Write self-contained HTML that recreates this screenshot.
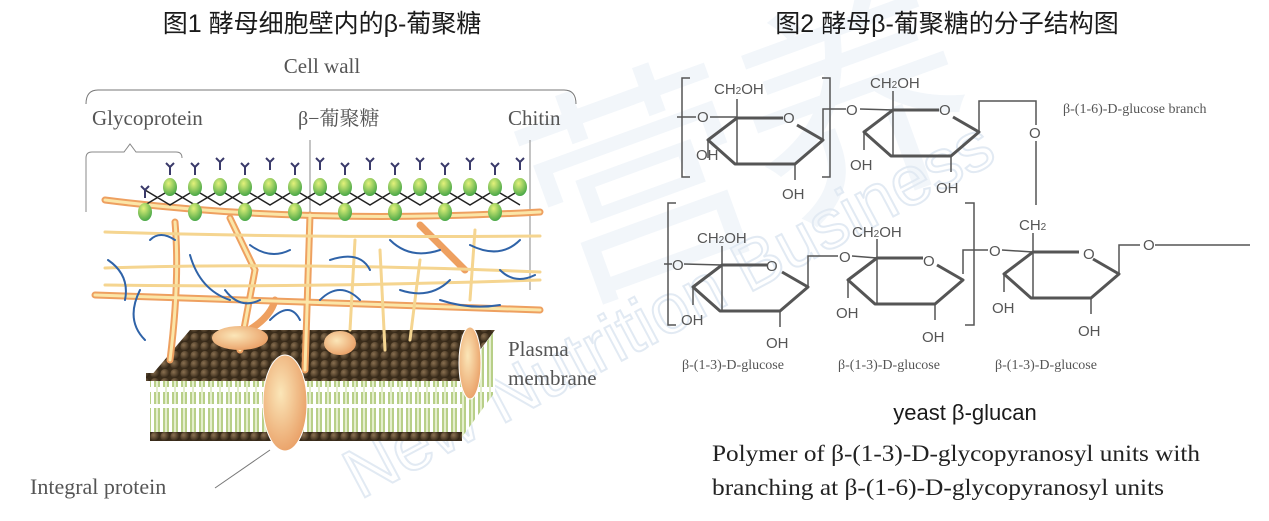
<!DOCTYPE html>
<html><head><meta charset="utf-8"><style>
html,body{margin:0;padding:0;background:#fff;}
svg{display:block}
.t{font-family:"Liberation Sans","Noto Sans CJK SC",sans-serif;fill:#1a1a1a}
.s{font-family:"Liberation Serif","Noto Serif CJK SC",serif;fill:#555}
.c{font-family:"Liberation Sans",sans-serif;fill:#555;font-size:15px}
.sr{font-family:"Liberation Serif",serif;fill:#222}
</style></head><body>
<svg width="1269" height="521" viewBox="0 0 1269 521" xmlns="http://www.w3.org/2000/svg">
<defs>
<radialGradient id="bead" cx="0.35" cy="0.35" r="0.7"><stop offset="0" stop-color="#8a7050"/><stop offset="1" stop-color="#2e2214"/></radialGradient>
<pattern id="beads" width="10" height="9" patternUnits="userSpaceOnUse"><rect width="10" height="9" fill="#3a2c1a"/><circle cx="5" cy="4.5" r="4.6" fill="url(#bead)"/></pattern>
<pattern id="lip" width="9" height="60" patternUnits="userSpaceOnUse"><rect width="9" height="60" fill="#fff"/><rect x="1" y="0" width="6" height="27" fill="#b8cf88"/><rect x="1" y="32" width="6" height="28" fill="#b8cf88"/><rect x="3" y="0" width="2" height="60" fill="#e4eecc"/></pattern>
<radialGradient id="prot" cx="0.4" cy="0.4" r="0.7"><stop offset="0" stop-color="#fbe6b8"/><stop offset="1" stop-color="#e89a60"/></radialGradient>
<radialGradient id="grn" cx="0.4" cy="0.3" r="0.7"><stop offset="0" stop-color="#e4f27a"/><stop offset="1" stop-color="#4aa848"/></radialGradient>
<g id="ring" fill="none" stroke="#555" stroke-linejoin="round">
<path d="M46 0 L0 0 L-29 22 L-2 46 L58 46 L86 22 L60 7" stroke-width="3"/>
<path d="M0 0 L0 46 M0 0 L0 -19 M-29 22 L-29 40 M58 46 L58 62" stroke-width="1.5"/>
</g>
</defs>

<!-- watermark -->
<g fill="#e6eef6" opacity="0.9">
<text x="560" y="300" font-family="Noto Sans CJK SC,sans-serif" font-size="230" transform="rotate(-20 560 300)" opacity="0.6">营养</text>
<text x="360" y="500" font-family="Liberation Sans,sans-serif" font-size="70" transform="rotate(-28 360 500)" fill="none" stroke="#dfe8f2" stroke-width="2">New Nutrition Business</text>
</g>

<!-- Titles -->
<text class="t" x="322" y="32" font-size="25" text-anchor="middle">图1 酵母细胞壁内的β-葡聚糖</text>
<text class="t" x="947" y="32" font-size="25" text-anchor="middle">图2 酵母β-葡聚糖的分子结构图</text>

<!-- left labels -->
<text class="s" x="322" y="73" font-size="21" text-anchor="middle">Cell wall</text>
<path d="M86 104 Q86 90 98 90 L564 90 Q576 90 576 104" fill="none" stroke="#777" stroke-width="1"/>
<text class="s" x="92" y="125" font-size="21">Glycoprotein</text>
<text class="s" x="298" y="125" font-size="20">β−葡聚糖</text>
<text class="s" x="508" y="125" font-size="21">Chitin</text>
<path d="M310 140 L310 290 M530 140 L530 290" stroke="#888" stroke-width="1"/>
<path d="M86 212 L86 158 Q86 152 92 152 L124 152 L130 144 L136 152 L176 152 Q182 152 182 158" fill="none" stroke="#888" stroke-width="1"/>

<!-- membrane -->
<path d="M190 330 L495 330 L460 377 L150 377 Z" fill="url(#beads)"/>
<rect x="150" y="377" width="312" height="60" fill="url(#lip)"/>
<rect x="150" y="404" width="312" height="4" fill="#fff"/>
<path d="M462 377 L495 330 L495 392 L462 437 Z" fill="url(#lip)"/>
<rect x="150" y="432" width="312" height="9" fill="url(#beads)"/>
<rect x="146" y="373" width="316" height="8" fill="url(#beads)"/>

<!-- fibers -->
<g fill="none" stroke-linecap="round">
<g stroke="#eea060" stroke-width="7">
<path d="M105 200 Q300 225 540 212"/>
<path d="M95 295 Q250 300 540 310"/>
<path d="M175 222 Q180 280 170 360"/>
<path d="M230 218 L255 270 L240 350"/>
<path d="M310 215 L305 370"/>
<path d="M420 225 L465 270"/>
<path d="M240 335 Q270 320 275 300"/>
</g>
<g stroke="#fbe6a8" stroke-width="3">
<path d="M105 200 Q300 225 540 212"/>
<path d="M95 295 Q250 300 540 310"/>
<path d="M175 222 Q180 280 170 360"/>
<path d="M310 215 L305 370"/>
<path d="M230 218 L255 270 L240 350"/>
</g>
<g stroke="#f5d590" stroke-width="3">
<path d="M105 232 Q300 238 540 236"/>
<path d="M105 268 Q300 262 540 272"/>
<path d="M105 285 Q300 288 540 280"/>
<path d="M380 250 L385 350"/>
<path d="M420 260 L410 340"/>
<path d="M355 240 L350 330"/>
<path d="M475 230 L470 300"/>
</g>
<g stroke="#2f63a8" stroke-width="2">
<path d="M108 260 Q130 275 125 300"/>
<path d="M140 290 Q125 320 145 340"/>
<path d="M190 255 Q200 290 230 300"/>
<path d="M225 290 Q240 310 260 300"/>
<path d="M250 245 Q270 260 290 250"/>
<path d="M330 260 Q360 250 370 270"/>
<path d="M320 300 Q340 280 360 300"/>
<path d="M390 240 Q410 260 440 250"/>
<path d="M400 290 Q430 300 450 280"/>
<path d="M440 300 Q470 310 500 305"/>
<path d="M470 245 Q500 260 520 240"/>
<path d="M150 240 Q160 230 175 240"/>
<path d="M270 320 Q290 300 300 320"/>
<path d="M500 270 Q515 285 535 275"/>
</g>
</g>

<!-- glycoprotein row -->
<g>
<path d="M145 205 L170 190 L195 205 L220 190 L245 205 L270 190 L295 205 L320 190 L345 205 L370 190 L395 205 L420 190 L445 205 L470 190 L495 205 L520 190 M145 190 L170 205 L195 190 L220 205 L245 190 L270 205 L295 190 L320 205 L345 190 L370 205 L395 190 L420 205 L445 190 L470 205 L495 190 L520 205" stroke="#222" stroke-width="1.5" fill="none"/>
<g fill="url(#grn)">
<ellipse cx="145" cy="212" rx="7" ry="9"/><ellipse cx="170" cy="187" rx="7" ry="9"/><ellipse cx="195" cy="212" rx="7" ry="9"/><ellipse cx="220" cy="187" rx="7" ry="9"/><ellipse cx="245" cy="212" rx="7" ry="9"/><ellipse cx="270" cy="187" rx="7" ry="9"/><ellipse cx="295" cy="212" rx="7" ry="9"/><ellipse cx="320" cy="187" rx="7" ry="9"/><ellipse cx="345" cy="212" rx="7" ry="9"/><ellipse cx="370" cy="187" rx="7" ry="9"/><ellipse cx="395" cy="212" rx="7" ry="9"/><ellipse cx="420" cy="187" rx="7" ry="9"/><ellipse cx="445" cy="212" rx="7" ry="9"/><ellipse cx="470" cy="187" rx="7" ry="9"/><ellipse cx="495" cy="212" rx="7" ry="9"/><ellipse cx="520" cy="187" rx="7" ry="9"/>
<ellipse cx="195" cy="187" rx="7" ry="9"/><ellipse cx="245" cy="187" rx="7" ry="9"/><ellipse cx="295" cy="187" rx="7" ry="9"/><ellipse cx="345" cy="187" rx="7" ry="9"/><ellipse cx="395" cy="187" rx="7" ry="9"/><ellipse cx="445" cy="187" rx="7" ry="9"/><ellipse cx="495" cy="187" rx="7" ry="9"/>
</g>
<g stroke="#3a3a6a" stroke-width="2" fill="none">
<path d="M145 198 l0 -8 l-4 -4 m4 4 l4 -4"/><path d="M170 175 l0 -8 l-4 -4 m4 4 l4 -4"/><path d="M195 175 l0 -8 l-4 -4 m4 4 l4 -4"/><path d="M220 170 l0 -8 l-4 -4 m4 4 l4 -4"/><path d="M245 175 l0 -8 l-4 -4 m4 4 l4 -4"/><path d="M270 170 l0 -8 l-4 -4 m4 4 l4 -4"/><path d="M295 175 l0 -8 l-4 -4 m4 4 l4 -4"/><path d="M320 170 l0 -8 l-4 -4 m4 4 l4 -4"/><path d="M345 175 l0 -8 l-4 -4 m4 4 l4 -4"/><path d="M370 170 l0 -8 l-4 -4 m4 4 l4 -4"/><path d="M395 175 l0 -8 l-4 -4 m4 4 l4 -4"/><path d="M420 170 l0 -8 l-4 -4 m4 4 l4 -4"/><path d="M445 175 l0 -8 l-4 -4 m4 4 l4 -4"/><path d="M470 170 l0 -8 l-4 -4 m4 4 l4 -4"/><path d="M495 175 l0 -8 l-4 -4 m4 4 l4 -4"/><path d="M520 170 l0 -8 l-4 -4 m4 4 l4 -4"/>
</g>
</g>

<!-- proteins -->
<ellipse cx="240" cy="338" rx="28" ry="12" fill="url(#prot)"/>
<ellipse cx="340" cy="343" rx="16" ry="12" fill="url(#prot)"/>
<ellipse cx="285" cy="403" rx="22" ry="48" fill="url(#prot)" stroke="#fff" stroke-width="1"/>
<ellipse cx="470" cy="363" rx="11" ry="36" fill="url(#prot)" stroke="#fff" stroke-width="1"/>
<path d="M270 450 L215 488" stroke="#777" stroke-width="1"/>
<text class="s" x="508" y="356" font-size="21">Plasma</text>
<text class="s" x="508" y="385" font-size="21">membrane</text>
<text class="s" x="30" y="494" font-size="22">Integral protein</text>

<!-- right chemistry -->
<g fill="none" stroke="#555" stroke-width="1.5">
<path d="M690 78 L682 78 L682 177 L690 177"/>
<path d="M822 78 L830 78 L830 177 L822 177"/>
<path d="M676 203 L668 203 L668 325 L676 325"/>
<path d="M965 203 L974 203 L974 325 L965 325"/>
<path d="M677 117 L696 117 M710 117 L737 117"/>
<path d="M823 140 L823 109 L830 109 L846 109 M860 109 L893 110"/>
<path d="M979 132 L979 101 L1036 101 L1036 125 M1036 141 L1036 205"/>
<path d="M664 264 L672 264 M684 264 L722 265"/>
<path d="M808 287 L808 256 L838 256 M852 256 L877 258"/>
<path d="M963 274 L963 250 L975 250 M975 250 L988 250 M1002 250 L1033 252"/>
<path d="M1119 274 L1119 245 L1140 245 M1155 245 L1250 245"/>
</g>
<use href="#ring" x="737" y="118"/>
<use href="#ring" x="893" y="110"/>
<use href="#ring" x="722" y="265"/>
<use href="#ring" x="877" y="258"/>
<use href="#ring" x="1033" y="252"/>
<g class="c">
<text x="697" y="122">O</text><text x="783" y="123">O</text><text x="714" y="94">CH<tspan font-size="10">2</tspan>OH</text><text x="696" y="160">OH</text><text x="782" y="199">OH</text>
<text x="846" y="115">O</text><text x="939" y="115">O</text><text x="870" y="88">CH<tspan font-size="10">2</tspan>OH</text><text x="850" y="170">OH</text><text x="936" y="193">OH</text>
<text x="1029" y="138">O</text>
<text x="672" y="270">O</text><text x="766" y="271">O</text><text x="697" y="243">CH<tspan font-size="10">2</tspan>OH</text><text x="681" y="325">OH</text><text x="766" y="348">OH</text>
<text x="839" y="262">O</text><text x="923" y="266">O</text><text x="852" y="237">CH<tspan font-size="10">2</tspan>OH</text><text x="836" y="318">OH</text><text x="922" y="342">OH</text>
<text x="989" y="256">O</text><text x="1083" y="259">O</text><text x="1019" y="230">CH<tspan font-size="10">2</tspan></text><text x="992" y="313">OH</text><text x="1078" y="336">OH</text>
<text x="1143" y="250">O</text>
</g>
<g class="s" font-size="14">
<text x="1063" y="113">β-(1-6)-D-glucose branch</text>
<text x="682" y="369">β-(1-3)-D-glucose</text>
<text x="838" y="369">β-(1-3)-D-glucose</text>
<text x="995" y="369">β-(1-3)-D-glucose</text>
</g>
<text class="t" x="965" y="420" font-size="22" text-anchor="middle" fill="#111">yeast β-glucan</text>
<text class="sr" x="712" y="461" font-size="23" textLength="488" lengthAdjust="spacingAndGlyphs">Polymer of β-(1-3)-D-glycopyranosyl units with</text>
<text class="sr" x="712" y="495" font-size="23" textLength="452" lengthAdjust="spacingAndGlyphs">branching at β-(1-6)-D-glycopyranosyl units</text>
</svg>
</body></html>
